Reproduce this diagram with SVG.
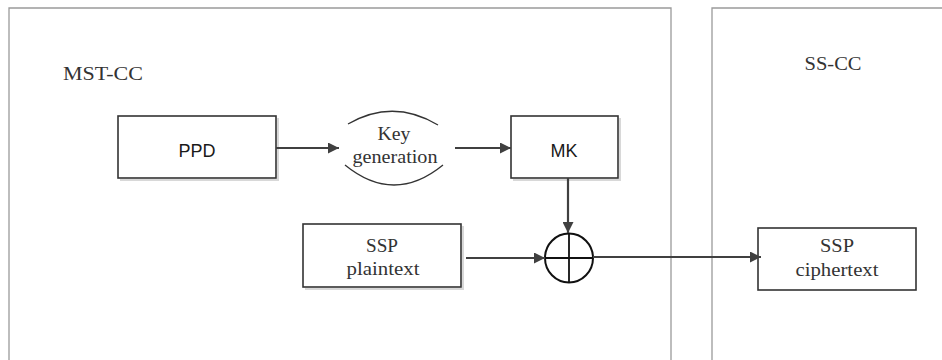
<svg xmlns="http://www.w3.org/2000/svg" width="942" height="360" viewBox="0 0 942 360">
<style>
.cont{fill:none;stroke:#9a9a9a;stroke-width:1.3}
.box{fill:#fff;stroke:#333;stroke-width:1.6}
.shadow{fill:none;stroke:#d8d8d8;stroke-width:2}
.serif{font-family:"Liberation Serif","Times New Roman",serif;font-size:19px;fill:#333;text-anchor:middle}
.sans{font-family:"Liberation Sans",Arial,sans-serif;font-size:18px;fill:#1a1a1a;text-anchor:middle}
.conn{fill:none;stroke:#404040;stroke-width:2.2}
</style>
<defs>
<marker id="ah" viewBox="0 0 10 10" refX="10" refY="5" markerWidth="5" markerHeight="5" orient="auto" markerUnits="strokeWidth">
<path d="M0,0 L10,5 L0,10 z" fill="#404040"/>
</marker>
</defs>
<rect width="942" height="360" fill="#fff"/>
<g id="mst-cc">
<path class="cont" d="M9,362 V8 H671 V362"/>
<text class="serif" x="63" y="80" style="text-anchor:start" textLength="80" lengthAdjust="spacingAndGlyphs">MST-CC</text>
</g>
<g id="ss-cc">
<path class="cont" d="M712,362 V8 H944"/>
<text class="serif" x="833" y="70" textLength="57" lengthAdjust="spacingAndGlyphs">SS-CC</text>
</g>
<g id="ppd">
<path class="shadow" d="M120,180 H278 V118"/>
<rect class="box" x="118" y="116" width="158" height="62"/>
<text class="sans" x="197" y="157">PPD</text>
</g>
<g id="keygen">
<path d="M348,124 Q393,98 438,125" fill="none" stroke="#333" stroke-width="1.3"/>
<path d="M345,165 Q394,205 443,165" fill="none" stroke="#333" stroke-width="1.3"/>
<text class="serif" x="394" y="140" textLength="33" lengthAdjust="spacingAndGlyphs">Key</text>
<text class="serif" x="395" y="163" textLength="85" lengthAdjust="spacingAndGlyphs">generation</text>
</g>
<g id="mk">
<path class="shadow" d="M513,180 H620 V118"/>
<rect class="box" x="511" y="116" width="107" height="62"/>
<text class="sans" x="564" y="157">MK</text>
</g>
<g id="xor">
<ellipse cx="569" cy="258" rx="24" ry="24.5" fill="#fff" stroke="#111" stroke-width="2"/>
<path d="M545,258 H593 M569,233.5 V282.5" stroke="#111" stroke-width="1.8"/>
</g>
<g id="plaintext">
<path class="shadow" d="M305,289 H463 V226"/>
<rect class="box" x="303" y="224" width="158" height="63"/>
<text class="serif" x="382" y="252" textLength="32" lengthAdjust="spacingAndGlyphs">SSP</text>
<text class="serif" x="383" y="275" textLength="73" lengthAdjust="spacingAndGlyphs">plaintext</text>
</g>
<g id="ciphertext">
<rect class="box" x="758" y="228" width="158" height="62"/>
<text class="serif" x="837" y="252" textLength="34" lengthAdjust="spacingAndGlyphs">SSP</text>
<text class="serif" x="837" y="276" textLength="83" lengthAdjust="spacingAndGlyphs">ciphertext</text>
</g>
<g id="connectors">
<line class="conn" x1="276" y1="148" x2="339" y2="148" marker-end="url(#ah)"/>
<line class="conn" x1="455" y1="148" x2="511" y2="148" marker-end="url(#ah)"/>
<line class="conn" x1="568" y1="178" x2="568" y2="233" marker-end="url(#ah)"/>
<line class="conn" x1="466" y1="258" x2="545" y2="258" marker-end="url(#ah)"/>
<line class="conn" x1="593" y1="257" x2="761" y2="257" marker-end="url(#ah)"/>
</g>
</svg>
